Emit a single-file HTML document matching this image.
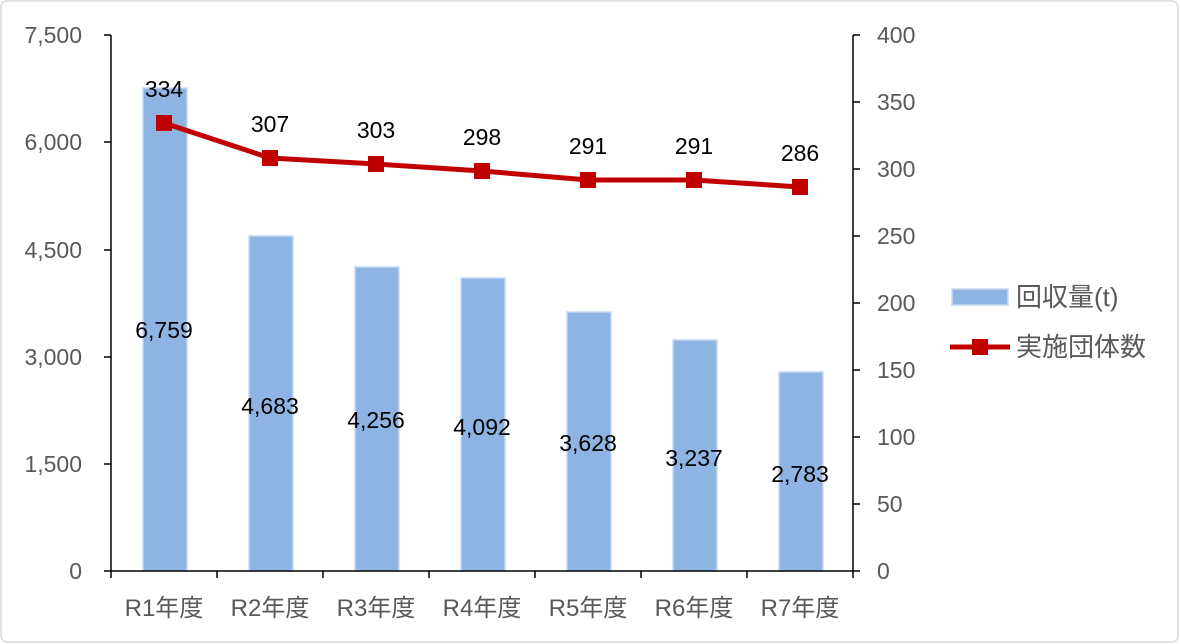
<!DOCTYPE html>
<html><head><meta charset="utf-8"><style>
html,body{margin:0;padding:0;background:#fff;}
svg{display:block;font-family:"Liberation Sans","Noto Sans CJK JP",sans-serif;}
</style></head><body>
<svg width="1180" height="644" viewBox="0 0 1180 644">
<rect x="1" y="1" width="1177" height="641" rx="6" fill="#fff" stroke="#d9d9d9" stroke-width="1.5"/>
<g fill="#8eb4e3" stroke="#c6d9f1" stroke-width="1.5">
<rect x="143" y="88" width="44" height="483"/>
<rect x="249" y="236" width="44" height="335"/>
<rect x="355" y="267" width="44" height="304"/>
<rect x="461" y="278" width="44" height="293"/>
<rect x="567" y="312" width="44" height="259"/>
<rect x="673" y="340" width="44" height="231"/>
<rect x="779" y="372" width="44" height="199"/>
</g>
<g stroke="#000" stroke-width="1.5" fill="none">
<line x1="111" y1="35" x2="111" y2="571"/>
<line x1="104" y1="571" x2="853" y2="571"/>
<line x1="853" y1="35" x2="853" y2="571"/>
<line x1="104" y1="35" x2="111" y2="35"/><line x1="104" y1="142" x2="111" y2="142"/><line x1="104" y1="250" x2="111" y2="250"/><line x1="104" y1="357" x2="111" y2="357"/><line x1="104" y1="464" x2="111" y2="464"/>
<line x1="853" y1="35" x2="860" y2="35"/><line x1="853" y1="102" x2="860" y2="102"/><line x1="853" y1="169" x2="860" y2="169"/><line x1="853" y1="236" x2="860" y2="236"/><line x1="853" y1="303" x2="860" y2="303"/><line x1="853" y1="370" x2="860" y2="370"/><line x1="853" y1="437" x2="860" y2="437"/><line x1="853" y1="504" x2="860" y2="504"/><line x1="853" y1="571" x2="860" y2="571"/>
<line x1="111" y1="571" x2="111" y2="578"/><line x1="217" y1="571" x2="217" y2="578"/><line x1="323" y1="571" x2="323" y2="578"/><line x1="429" y1="571" x2="429" y2="578"/><line x1="535" y1="571" x2="535" y2="578"/><line x1="641" y1="571" x2="641" y2="578"/><line x1="747" y1="571" x2="747" y2="578"/><line x1="853" y1="571" x2="853" y2="578"/>
</g>
<g fill="#595959" font-size="23" text-anchor="end">
<text x="82" y="43">7,500</text><text x="82" y="150">6,000</text><text x="82" y="258">4,500</text><text x="82" y="365">3,000</text><text x="82" y="472">1,500</text><text x="82" y="579">0</text>
</g>
<g fill="#595959" font-size="23" text-anchor="start">
<text x="877" y="43">400</text><text x="877" y="110">350</text><text x="877" y="177">300</text><text x="877" y="244">250</text><text x="877" y="311">200</text><text x="877" y="378">150</text><text x="877" y="445">100</text><text x="877" y="512">50</text><text x="877" y="579">0</text>
</g>
<g fill="#595959" font-size="24" text-anchor="middle">
<text x="164" y="616">R1年度</text><text x="270" y="616">R2年度</text><text x="376" y="616">R3年度</text><text x="482" y="616">R4年度</text><text x="588" y="616">R5年度</text><text x="694" y="616">R6年度</text><text x="800" y="616">R7年度</text>
</g>
<polyline points="164,123 270,158 376,164 482,171 588,180 694,180 800,187" fill="none" stroke="#c00000" stroke-width="5" stroke-linejoin="round"/>
<g fill="#c00000">
<rect x="156" y="115" width="16" height="16"/><rect x="262" y="150" width="16" height="16"/><rect x="368" y="156" width="16" height="16"/><rect x="474" y="163" width="16" height="16"/><rect x="580" y="172" width="16" height="16"/><rect x="686" y="172" width="16" height="16"/><rect x="792" y="179" width="16" height="16"/>
</g>
<g fill="#000" font-size="23" text-anchor="middle">
<text x="164" y="97">334</text><text x="270" y="132">307</text><text x="376" y="138">303</text><text x="482" y="145">298</text><text x="588" y="154">291</text><text x="694" y="154">291</text><text x="800" y="161">286</text>
<text x="164" y="338">6,759</text><text x="270" y="414">4,683</text><text x="376" y="428">4,256</text><text x="482" y="435">4,092</text><text x="588" y="451">3,628</text><text x="694" y="466">3,237</text><text x="800" y="482">2,783</text>
</g>
<rect x="952" y="289" width="56" height="16" fill="#8eb4e3" stroke="#c6d9f1" stroke-width="1.5"/>
<text x="1016" y="306" font-size="26" fill="#595959">回収量(t)</text>
<line x1="950" y1="347" x2="1010" y2="347" stroke="#c00000" stroke-width="5"/>
<rect x="972" y="339" width="16" height="16" fill="#c00000"/>
<text x="1016" y="356" font-size="26" fill="#595959">実施団体数</text>
</svg>
</body></html>
